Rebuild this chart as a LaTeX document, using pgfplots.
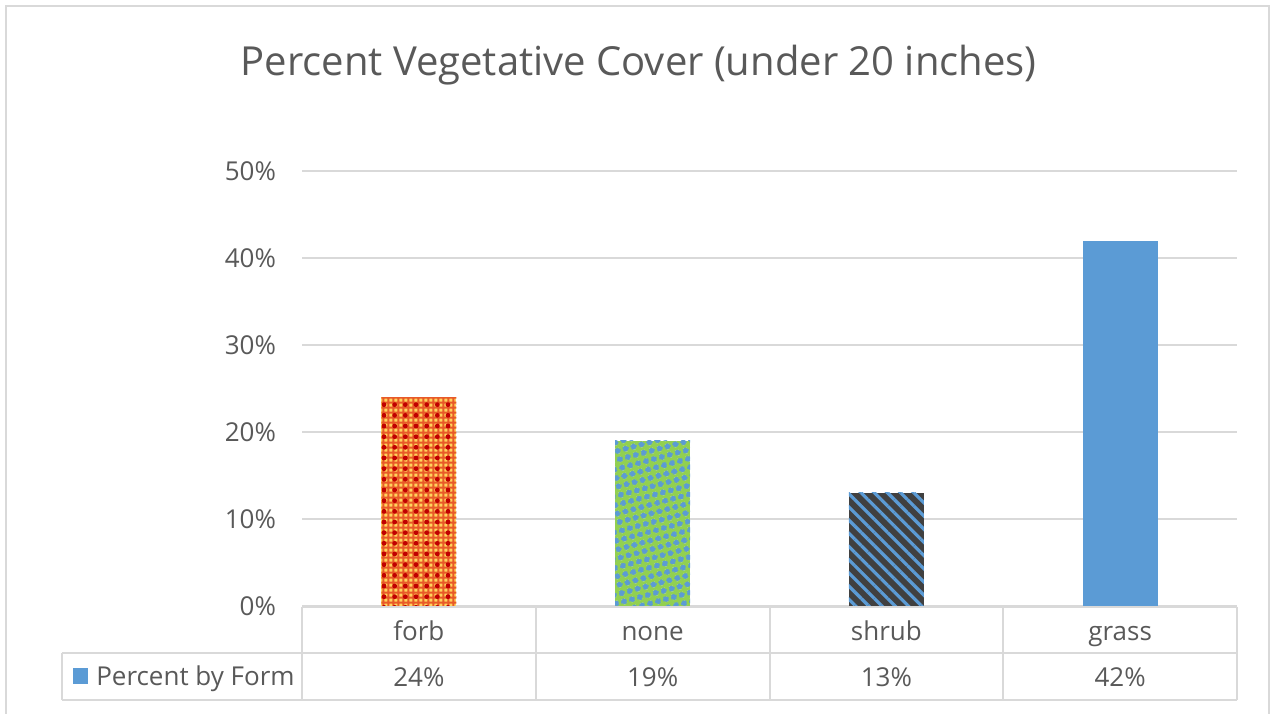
\documentclass[border=0pt]{standalone}
\usepackage{pgfplots}
\pgfplotsset{compat=1.18}
\usepackage{fontspec}
\setmainfont{Open Sans}
\usetikzlibrary{patterns.meta}

\definecolor{txt}{HTML}{595959}
\definecolor{gridc}{HTML}{D9D9D9}
\definecolor{framec}{HTML}{D9D9D9}
\definecolor{xblue}{HTML}{5B9BD5}
\definecolor{xgreen}{HTML}{92D050}
\definecolor{xdark}{HTML}{404040}
\definecolor{xyellow}{HTML}{FFD35C}
\definecolor{xorange}{HTML}{E85A28}
\definecolor{xred}{HTML}{C00000}

\newcommand{\lblfont}{\fontsize{19.5}{22}\selectfont}

\begin{document}
\begin{tikzpicture}
% page: 1271 x 714 px, 1 px = 0.75pt
\useasboundingbox (0,0) rectangle (953.25pt,535.5pt);
\begin{scope}[x=0.75pt, y=-0.75pt, yshift=535.5pt]
  % outer chart frame (bottom edge is cut off in the reference)
  \draw[framec, line width=1.5pt] (6,714) -- (6,6) -- (1269,6) -- (1269,714);
  \node[txt, font=\fontsize{30}{36}\selectfont, anchor=base] at (638.5,76) {Percent Vegetative Cover (under 20 inches)};
\end{scope}

\begin{axis}[
  at={(226.5pt,81pt)}, anchor=south west,
  scale only axis,
  width=701.25pt, height=326.25pt,
  ybar, bar width=56.25pt, bar shift=0pt,
  xmin=-0.5, xmax=3.5,
  ymin=0, ymax=50,
  ytick={0,10,...,50},
  ymajorgrids, xmajorgrids=false,
  y grid style={gridc, line width=1.5pt},
  axis line style={draw=none},
  major tick length=0pt,
  xtick={0,1,2,3},
  xticklabels={forb,none,shrub,grass},
  xticklabel style={anchor=base, yshift=-26pt},
  yticklabel={\pgfmathprintnumber{\tick}\%},
  yticklabel style={xshift=-16pt},
  ticklabel style={font=\lblfont, text=txt},
  /pgf/number format/assume math mode=true,
  clip=false,
]
  % forb
  \addplot[draw=none, fill=xyellow,
    postaction={pattern={Hatch[distance=4pt, angle=0, line width=1.7pt]}, pattern color=xorange},
    postaction={pattern={Dots[distance=8pt, radius=1.8pt]}, pattern color=xred}]
    coordinates {(0,24)};
  % none
  \addplot[draw=none, fill=xgreen,
    postaction={pattern={Dots[distance=6.5pt, radius=2.4pt, angle=15]}, pattern color=xblue}]
    coordinates {(1,19)};
  % shrub
  \addplot[draw=none, fill=xdark,
    postaction={pattern={Lines[distance=7pt, angle=-45, line width=2.4pt]}, pattern color=xblue}]
    coordinates {(2,13)};
  % grass
  \addplot[draw=none, fill=xblue] coordinates {(3,42)};

  % data table values row
  \addplot[draw=none, fill=none, point meta=explicit,
    nodes near coords={\pgfmathprintnumber{\pgfplotspointmeta}\%},
    every node near coord/.style={anchor=base, yshift=-60pt,
      font=\lblfont, text=txt}]
    coordinates {(0,0) [24] (1,0) [19] (2,0) [13] (3,0) [42]};
\end{axis}

\begin{scope}[x=0.75pt, y=-0.75pt, yshift=535.5pt]
  % data table grid
  \begin{scope}[framec, line width=1.5pt]
    \draw (302,607) -- (1237,607);
    \draw (62,653) -- (1237,653);
    \draw (62,700) -- (1237,700);
    \draw (62,653) -- (62,700);
    \foreach \xx in {302,536,770,1003,1237} \draw (\xx,607) -- (\xx,700);
  \end{scope}
  \fill[xblue] (73,668) rectangle (88,684);
  \node[txt, anchor=base west, font=\lblfont, inner sep=0pt] at (96,686) {Percent by Form};
\end{scope}
\end{tikzpicture}
\end{document}
